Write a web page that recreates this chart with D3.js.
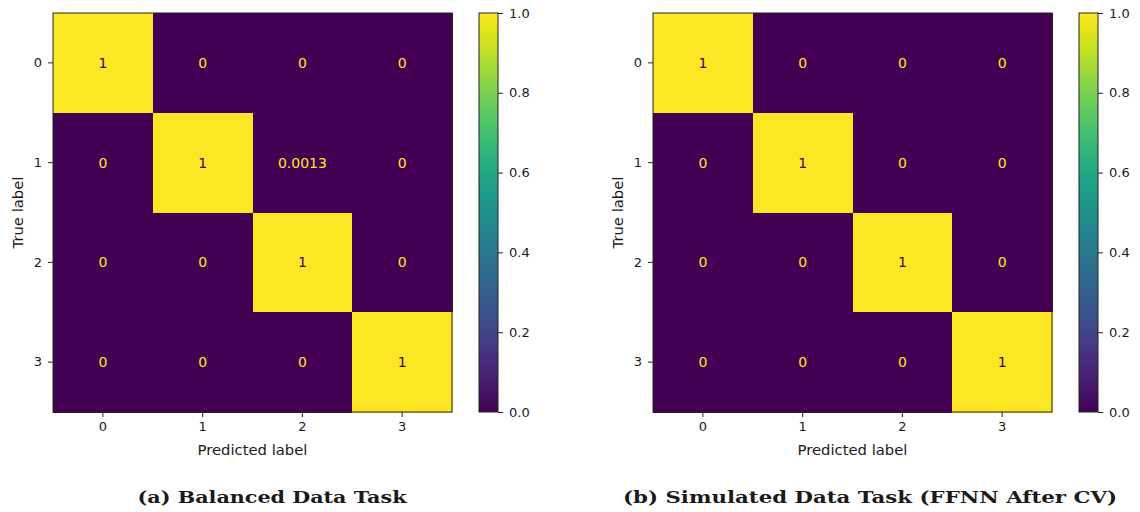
<!DOCTYPE html>
<html>
<head>
<meta charset="utf-8">
<script src="https://cdn.jsdelivr.net/npm/d3@7"></script>
<style>
  body { margin: 0; background: #fff; }
  text { font-family: "DejaVu Sans", sans-serif; fill: #1a1a1a; }
  .caption { font-family: "DejaVu Serif", serif; font-weight: bold; }
</style>
</head>
<body>
<svg id="chart" width="1140" height="512"></svg>
<script>
// class labels
const classes = ["0", "1", "2", "3"];

// normalised confusion matrices (rows = true label, cols = predicted)
const balancedMatrix = [
  [1, 0, 0, 0],
  [0, 1, 0.0013, 0],
  [0, 0, 1, 0],
  [0, 0, 0, 1]
];
const simulatedMatrix = [
  [1, 0, 0, 0],
  [0, 1, 0, 0],
  [0, 0, 1, 0],
  [0, 0, 0, 1]
];

const colorbarTicks = [0, 0.2, 0.4, 0.6, 0.8, 1.0];
const captions = ["(a) Balanced Data Task", "(b) Simulated Data Task (FFNN After CV)"];

(function () {
  const svg = d3.select("#chart");
  const color = d3.scaleSequential(d3.interpolateViridis).domain([0, 1]);
  const fmt = d3.format(".2~g");

  function drawPanel(matrix, caption, offsetX, captionX, captionWidth) {
    const left = 53, top = 13, size = 399;
    const g = svg.append("g").attr("transform", "translate(" + (offsetX + left) + "," + top + ")");

    const x = d3.scaleBand().domain(classes).range([0, size]);
    const y = d3.scaleBand().domain(classes).range([0, size]);

    const cells = [];
    matrix.forEach((row, i) => row.forEach((v, j) => cells.push({ r: classes[i], c: classes[j], v: v })));

    g.selectAll("rect.cell")
      .data(cells)
      .enter()
      .append("rect")
      .attr("class", "cell")
      .attr("x", d => x(d.c))
      .attr("y", d => y(d.r))
      .attr("width", x.bandwidth() + 1)
      .attr("height", y.bandwidth() + 1)
      .attr("shape-rendering", "crispEdges")
      .attr("fill", d => color(d.v));

    g.selectAll("text.val")
      .data(cells)
      .enter()
      .append("text")
      .attr("class", "val")
      .attr("x", d => x(d.c) + x.bandwidth() / 2)
      .attr("y", d => y(d.r) + y.bandwidth() / 2)
      .attr("text-anchor", "middle")
      .attr("dominant-baseline", "central")
      .attr("font-size", "14px")
      .style("fill", d => d.v < 0.5 ? color(1) : color(0))
      .text(d => fmt(d.v));

    g.append("rect")
      .attr("width", size).attr("height", size)
      .attr("fill", "none").attr("stroke", "#222").attr("stroke-width", 1);

    // axes
    const xAxis = d3.axisBottom(x).tickSize(5).tickPadding(5).tickSizeOuter(0);
    const gx = g.append("g").attr("transform", "translate(0," + size + ")").call(xAxis);
    gx.select(".domain").remove();
    gx.selectAll("text").attr("font-size", "13px").attr("font-family", "DejaVu Sans").style("fill", "#1a1a1a");
    gx.selectAll("line").attr("stroke", "#222");

    const yAxis = d3.axisLeft(y).tickSize(5).tickPadding(6).tickSizeOuter(0);
    const gy = g.append("g").call(yAxis);
    gy.select(".domain").remove();
    gy.selectAll("text").attr("font-size", "13px").attr("font-family", "DejaVu Sans").style("fill", "#1a1a1a");
    gy.selectAll("line").attr("stroke", "#222");

    g.append("text")
      .attr("x", size / 2).attr("y", size + 43)
      .attr("text-anchor", "middle").attr("font-size", "14.8px")
      .text("Predicted label");

    g.append("text")
      .attr("transform", "rotate(-90)")
      .attr("x", -size / 2).attr("y", -30)
      .attr("text-anchor", "middle").attr("font-size", "14.8px")
      .text("True label");

    // colour bar
    const cbX = 426, cbW = 19;
    const cy = d3.scaleLinear().domain([0, 1]).range([size, 0]);
    const gradId = "grad" + offsetX;
    const grad = svg.append("defs").append("linearGradient")
      .attr("id", gradId).attr("x1", 0).attr("y1", 1).attr("x2", 0).attr("y2", 0);
    d3.range(0, 1.0001, 0.05).forEach(t => {
      grad.append("stop").attr("offset", t).attr("stop-color", color(t));
    });
    const cb = g.append("g").attr("transform", "translate(" + cbX + ",0)");
    cb.append("rect")
      .attr("width", cbW).attr("height", size)
      .attr("fill", "url(#" + gradId + ")")
      .attr("stroke", "#222").attr("stroke-width", 1);
    const cAxis = d3.axisRight(cy).tickValues(colorbarTicks).tickFormat(d3.format(".1f")).tickSize(5).tickPadding(6);
    const gc = cb.append("g").attr("transform", "translate(" + cbW + ",0)").call(cAxis);
    gc.select(".domain").remove();
    gc.selectAll("text").attr("font-size", "13px").attr("font-family", "DejaVu Sans").style("fill", "#1a1a1a");
    gc.selectAll("line").attr("stroke", "#222");

    // caption
    svg.append("text")
      .attr("class", "caption")
      .attr("x", offsetX + captionX)
      .attr("y", 503)
      .attr("text-anchor", "middle")
      .attr("font-size", "17px")
      .attr("textLength", captionWidth)
      .attr("lengthAdjust", "spacingAndGlyphs")
      .text(caption);
  }

  drawPanel(balancedMatrix, captions[0], 0, 272, 269);
  drawPanel(simulatedMatrix, captions[1], 600, 270, 494);
})();
</script>
</body>
</html>
